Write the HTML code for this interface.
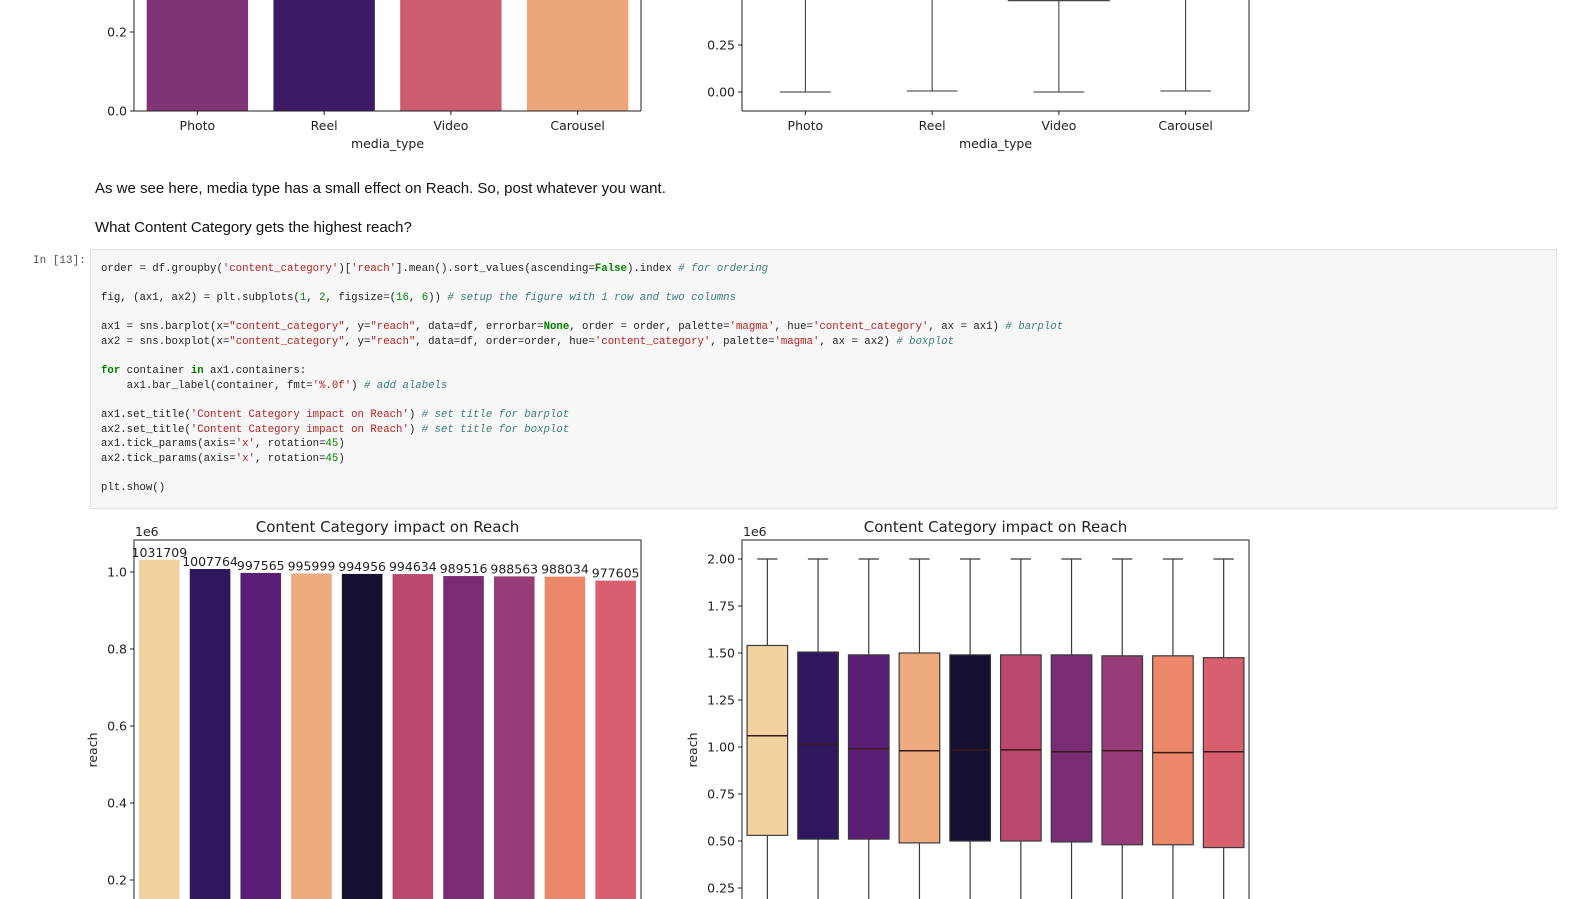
<!DOCTYPE html>
<html><head><meta charset="utf-8"><style>
body{margin:0;width:1570px;height:899px;overflow:hidden;background:#fff;position:relative;font-family:"Liberation Sans",sans-serif}
.p{position:absolute;left:95px;font-size:15px;color:#111}
.cell{position:absolute;left:90px;top:249px;width:1465px;height:258px;background:#f7f7f7;border:1px solid #e3e3e3}
.code{position:absolute;left:10px;top:12px;font-family:"Liberation Mono",monospace;font-size:10.7px;color:#222;white-space:pre;line-height:14.6px}
.s{color:#ba2121}.c{color:#3d7b7b;font-style:italic}.k{color:#008000;font-weight:bold}.n{color:#080}
.prompt{position:absolute;left:33px;top:255px;font-family:"Liberation Mono",monospace;font-size:11px;color:#555}
svg{position:absolute;left:0;top:0;overflow:hidden}
svg text{font-family:"DejaVu Sans",sans-serif;fill:#222}
</style></head><body>
<div class="p" style="top:180px">As we see here, media type has a small effect on Reach. So, post whatever you want.</div>
<div class="p" style="top:219px">What Content Category gets the highest reach?</div>
<div class="prompt">In [13]:</div>
<div class="cell"><div class="code">order = df.groupby(<span class="s">'content_category'</span>)[<span class="s">'reach'</span>].mean().sort_values(ascending=<span class="k">False</span>).index <span class="c"># for ordering</span>

fig, (ax1, ax2) = plt.subplots(<span class="n">1</span>, <span class="n">2</span>, figsize=(<span class="n">16</span>, <span class="n">6</span>)) <span class="c"># setup the figure with 1 row and two columns</span>

ax1 = sns.barplot(x=<span class="s">"content_category"</span>, y=<span class="s">"reach"</span>, data=df, errorbar=<span class="k">None</span>, order = order, palette=<span class="s">'magma'</span>, hue=<span class="s">'content_category'</span>, ax = ax1) <span class="c"># barplot</span>
ax2 = sns.boxplot(x=<span class="s">"content_category"</span>, y=<span class="s">"reach"</span>, data=df, order=order, hue=<span class="s">'content_category'</span>, palette=<span class="s">'magma'</span>, ax = ax2) <span class="c"># boxplot</span>

<span class="k">for</span> container <span class="k">in</span> ax1.containers:
    ax1.bar_label(container, fmt=<span class="s">'%.0f'</span>) <span class="c"># add alabels</span>

ax1.set_title(<span class="s">'Content Category impact on Reach'</span>) <span class="c"># set title for barplot</span>
ax2.set_title(<span class="s">'Content Category impact on Reach'</span>) <span class="c"># set title for boxplot</span>
ax1.tick_params(axis=<span class="s">'x'</span>, rotation=<span class="n">45</span>)
ax2.tick_params(axis=<span class="s">'x'</span>, rotation=<span class="n">45</span>)

plt.show()</div></div>
<svg id="svg" width="1570" height="899"></svg>
<script>
const mediaTypes=['Photo','Reel','Video','Carousel'];
const mediaMeans=[0.5,0.5,0.5,0.5];
const mediaColors=['#7e3477','#3d1a66','#cc5c70','#eda57c'];
const mediaQ3=[0.6,0.6,0.487,0.49];
const mediaLow=[0.0,0.005,0.0,0.005];
const mediaTicksL=[0.0,0.2];
const mediaTicksR=[0.00,0.25,0.50];
const categories=['c1','c2','c3','c4','c5','c6','c7','c8','c9','c10'];
const catMeans=[1031709,1007764,997565,995999,994956,994634,989516,988563,988034,977605];
const catColors=['#f2d3a0','#2f1760','#5a1e77','#eeab80','#170f2f','#b9496f','#792b74','#963c78','#ec8869','#d8606e'];
const catQ1=[0.53,0.51,0.51,0.49,0.50,0.50,0.495,0.48,0.48,0.465];
const catMed=[1.06,1.015,0.99,0.98,0.985,0.985,0.975,0.98,0.97,0.975];
const catQ3=[1.54,1.505,1.49,1.50,1.49,1.49,1.49,1.485,1.485,1.475];
const catMax=[2.0,2.0,2.0,2.0,2.0,2.0,2.0,2.0,2.0,2.0];
const catMin=[0,0,0,0,0,0,0,0,0,0];
const barTicks=[0.2,0.4,0.6,0.8,1.0];
const boxTicks=[0.25,0.5,0.75,1.0,1.25,1.5,1.75,2.0];

const svg=document.getElementById('svg');
const NS='http://www.w3.org/2000/svg';
const H=899;
const cl=y=>Math.max(0,Math.min(H,y));
function el(t,a,p){const e=document.createElementNS(NS,t);for(const k in a)e.setAttribute(k,a[k]);(p||svg).appendChild(e);return e;}
function txt(x,y,s,a,p){const e=el('text',Object.assign({x:x,y:y},a||{}),p);e.textContent=s;return e;}
let cid=0;
function axes(x0,x1,y0,y1,name){
  const g=el('g',{});
  
  
  const id='cl'+(cid++);
  const cp=el('clipPath',{id:id},g);el('rect',{x:x0,y:y0,width:x1-x0,height:y1-y0},cp);
  const inner=el('g',{'clip-path':'url(#'+id+')'},g);
  return {g:g,inner:inner};
}
function yTicks(g,x0,ticks,ys,fmt){ticks.forEach(t=>{const y=ys(t);if(y<0||y>H-5)return;el('line',{x1:x0-4,x2:x0,y1:y,y2:y,stroke:'#222'},g);const tt=txt(x0-7,y+4.5,fmt(t),{'text-anchor':'end','font-size':12.5},g);});}

// top-left bar
(function(){
  const x0=134,x1=641,y1=111,ys=v=>111-v*395,band=(x1-x0)/4;
  const a=axes(x0,x1,0,y1,'media-bar-chart');
  mediaTypes.forEach((m,i)=>{const cx=x0+band*(i+0.5),w=band*0.8;
    const top=cl(ys(mediaMeans[i]));
    const r=el('rect',{x:cx-w/2,y:top,width:w,height:ys(0)-top,fill:mediaColors[i]},a.inner);
    
    el('line',{x1:cx,x2:cx,y1:y1,y2:y1+4,stroke:'#222'},a.g);
    const t=txt(cx,130,m,{'text-anchor':'middle','font-size':12.5},a.g);});
  el('line',{x1:x0,x2:x0,y1:0,y2:y1,stroke:'#222'},a.g);el('line',{x1:x0,x2:x1,y1:y1,y2:y1,stroke:'#222'},a.g);el('line',{x1:x1,x2:x1,y1:0,y2:y1,stroke:'#222'},a.g);
  yTicks(a.g,x0,mediaTicksL,ys,t=>t.toFixed(1));
  const xl=txt((x0+x1)/2,148,'media_type',{'text-anchor':'middle','font-size':12.5},a.g);
})();
// top-right box
(function(){
  const x0=742,x1=1249,y1=111,ys=v=>92-v*188,band=(x1-x0)/4;
  const a=axes(x0,x1,0,y1,'media-box-chart');
  mediaTypes.forEach((m,i)=>{const cx=x0+band*(i+0.5),w=band*0.8;
    el('line',{x1:cx,x2:cx,y1:cl(ys(mediaQ3[i])),y2:ys(mediaLow[i]),stroke:'#333'},a.inner);
    el('line',{x1:cx-w/4,x2:cx+w/4,y1:ys(mediaLow[i]),y2:ys(mediaLow[i]),stroke:'#333'},a.inner);
    const q=ys(mediaQ3[i]);
    if(q>=0){el('line',{x1:cx-w/2,x2:cx+w/2,y1:q,y2:q,stroke:'#444','stroke-width':1.5},a.inner);
      el('line',{x1:cx-w/2,x2:cx-w/2,y1:0,y2:q,stroke:'#444','stroke-width':1.5},a.inner);
      el('line',{x1:cx+w/2,x2:cx+w/2,y1:0,y2:q,stroke:'#444','stroke-width':1.5},a.inner);}
    el('line',{x1:cx,x2:cx,y1:y1,y2:y1+4,stroke:'#222'},a.g);
    const t=txt(cx,130,m,{'text-anchor':'middle','font-size':12.5},a.g);});
  el('line',{x1:x0,x2:x0,y1:0,y2:y1,stroke:'#222'},a.g);el('line',{x1:x0,x2:x1,y1:y1,y2:y1,stroke:'#222'},a.g);el('line',{x1:x1,x2:x1,y1:0,y2:y1,stroke:'#222'},a.g);
  yTicks(a.g,x0,mediaTicksR,ys,t=>t.toFixed(2));
  const xl=txt((x0+x1)/2,148,'media_type',{'text-anchor':'middle','font-size':12.5},a.g);
})();
// bottom-left bar
(function(){
  const x0=134,x1=641,y0=540,ys=v=>957-v*385,band=(x1-x0)/10;
  const a=axes(x0,x1,y0,H,'category-bar-chart');
  categories.forEach((c,i)=>{const cx=x0+band*(i+0.5),w=band*0.8,v=catMeans[i]/1e6;
    const top=ys(v),bot=cl(ys(0));
    const r=el('rect',{x:cx-w/2,y:top,width:w,height:Math.max(0,bot-top),fill:catColors[i]},a.inner);
    
    const t=txt(cx,top-3,String(catMeans[i]),{'text-anchor':'middle','font-size':12.5},a.g);});
  el('polyline',{points:x0+','+H+' '+x0+','+y0+' '+x1+','+y0+' '+x1+','+H,fill:'none',stroke:'#222'},a.g);
  yTicks(a.g,x0,barTicks,ys,t=>t.toFixed(1));
  const ti=txt((x0+x1)/2,532,'Content Category impact on Reach',{'text-anchor':'middle','font-size':15},a.g);
  const e=txt(135,536,'1e6',{'font-size':12.5},a.g);
  const yl=txt(0,0,'reach',{'text-anchor':'middle','font-size':12.5,transform:'translate(97,750) rotate(-90)'},a.g);
})();
// bottom-right box
(function(){
  const x0=742,x1=1249,y0=540,band=(x1-x0)/10;
  const Y=v=>559+(2-v)*188;
  const a=axes(x0,x1,y0,H,'category-box-chart');
  categories.forEach((c,i)=>{const cx=x0+band*(i+0.5),w=band*0.8;
    el('line',{x1:cx,x2:cx,y1:Y(catMax[i]),y2:Y(catQ3[i]),stroke:'#3a3a3a','stroke-width':1.2},a.inner);
    el('line',{x1:cx,x2:cx,y1:Y(catQ1[i]),y2:cl(Y(catMin[i])),stroke:'#3a3a3a','stroke-width':1.2},a.inner);
    el('line',{x1:cx-w/4,x2:cx+w/4,y1:Y(catMax[i]),y2:Y(catMax[i]),stroke:'#3a3a3a','stroke-width':1.2},a.inner);
    const r=el('rect',{x:cx-w/2,y:Y(catQ3[i]),width:w,height:Y(catQ1[i])-Y(catQ3[i]),fill:catColors[i],stroke:'#3a3a3a','stroke-width':1.2},a.inner);
    
    el('line',{x1:cx-w/2,x2:cx+w/2,y1:Y(catMed[i]),y2:Y(catMed[i]),stroke:'#3a1a1a','stroke-width':1.5},a.inner);});
  el('polyline',{points:x0+','+H+' '+x0+','+y0+' '+x1+','+y0+' '+x1+','+H,fill:'none',stroke:'#222'},a.g);
  yTicks(a.g,x0,boxTicks,Y,t=>t.toFixed(2));
  const ti=txt((x0+x1)/2,532,'Content Category impact on Reach',{'text-anchor':'middle','font-size':15},a.g);
  const e=txt(743,536,'1e6',{'font-size':12.5},a.g);
  const yl=txt(0,0,'reach',{'text-anchor':'middle','font-size':12.5,transform:'translate(697,750) rotate(-90)'},a.g);
})();
</script>
</body></html>
